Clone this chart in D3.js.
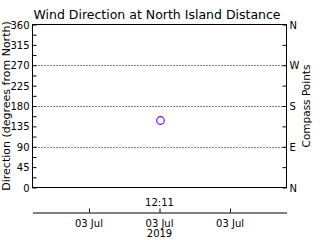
<!DOCTYPE html>
<html><head><meta charset="utf-8">
<script src="https://cdn.jsdelivr.net/npm/d3@7"></script>
<style>body{margin:0;background:#fff}svg{display:block}text{font-family:"DejaVu Sans",sans-serif}</style>
</head><body><svg id="c" width="320" height="240"></svg>
<script>
const title = "Wind Direction at North Island Distance";
const times = ["2019-07-03T12:11:00"];
const directions = [148];
const degreeTicks = [0,45,90,135,180,225,270,315,360];
const gridDegrees = [90,180,270];
const compassTicks = [0,90,180,270,360];
const compassLabels = ["N","E","S","W","N"];
const timeTicks = ["2019-07-03T12:10:00","2019-07-03T12:11:00","2019-07-03T12:12:00"];
const timeDomain = ["2019-07-03T12:09:12","2019-07-03T12:12:48"];
const centerLabel = "12:11";
const yearLabel = "2019";

const svg = d3.select("#c");
const L=32.5, R=286.5, T=24.5, B=187.5;
const parse = d3.isoParse;
const y = d3.scaleLinear().domain([0,360]).range([B,T]);
const x = d3.scaleTime().domain(timeDomain.map(parse)).range([L,R]);

svg.append("text").attr("x",157).attr("y",19).attr("text-anchor","middle")
  .attr("font-size",12.5).text(title);

// grid
svg.selectAll(".g").data(gridDegrees).enter().append("line")
  .attr("x1",L).attr("x2",R).attr("y1",d=>Math.round(y(d))+0.5).attr("y2",d=>Math.round(y(d))+0.5)
  .attr("stroke","#000").attr("stroke-dasharray","1,2");

// frame
svg.append("rect").attr("x",L).attr("y",T).attr("width",R-L).attr("height",B-T)
  .attr("fill","none").attr("stroke","#000");

// left axis
const yl = d3.axisRight(y).tickValues(degreeTicks).tickSize(4).tickFormat("");
svg.append("g").attr("transform",`translate(${L},0)`).call(yl).call(g=>g.select(".domain").remove());
const minor = d3.range(22.5,360,45);
svg.append("g").attr("transform",`translate(${L},0)`).call(d3.axisRight(y).tickValues(minor).tickSize(4).tickFormat(""))
  .call(g=>g.select(".domain").remove());
svg.selectAll(".yl").data(degreeTicks).enter().append("text")
  .attr("x",L-3).attr("y",d=>y(d)+4).attr("text-anchor","end").attr("font-size",10).text(d=>d);

// right axis
svg.append("g").attr("transform",`translate(${R},0)`).call(d3.axisLeft(y).tickValues(d3.range(0,361,45)).tickSize(4).tickFormat(""))
  .call(g=>g.select(".domain").remove());
svg.selectAll(".yr").data(compassTicks).enter().append("text")
  .attr("x",R+3).attr("y",(d)=>y(d)+4).attr("font-size",10).text((d,i)=>compassLabels[i]);

svg.append("text").attr("transform",`translate(10,106) rotate(-90)`).attr("text-anchor","middle")
  .attr("font-size",11).text("Direction (degrees from North)");
svg.append("text").attr("transform",`translate(310,106) rotate(-90)`).attr("text-anchor","middle")
  .attr("font-size",10.5).text("Compass Points");

// x axis
const xa = d3.axisTop(x).tickValues(timeTicks.map(parse)).tickSize(4).tickFormat("").tickSizeOuter(0);
svg.append("g").attr("transform",`translate(0,212.5)`).call(xa);
svg.selectAll(".xl").data(timeTicks).enter().append("text")
  .attr("x",d=>x(parse(d))).attr("y",227).attr("text-anchor","middle").attr("font-size",10)
  .text(d=>d3.timeFormat("%d %b")(parse(d)));
svg.append("text").attr("x",x(parse(times[0]))).attr("y",237).attr("text-anchor","middle").attr("font-size",10).text(yearLabel);
svg.append("text").attr("x",x(parse(times[0]))).attr("y",206).attr("text-anchor","middle").attr("font-size",10).text(centerLabel);

// points
svg.selectAll(".p").data(times).enter().append("circle")
  .attr("cx",d=>x(parse(d))+1).attr("cy",(d,i)=>y(directions[i])).attr("r",3.8)
  .attr("fill","none").attr("stroke","#7f00ff").attr("stroke-width",1.2);
</script></body></html>
